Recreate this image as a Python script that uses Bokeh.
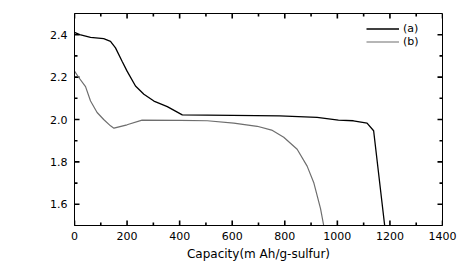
import math
from bokeh.plotting import figure
from bokeh.models import (Range1d, LinearAxis, FixedTicker, Legend, LegendItem, Label,
                          PrintfTickFormatter, ColumnDataSource)
from bokeh.embed import file_html
from bokeh.resources import INLINE

# Data
cap_a = [0, 20, 61, 111, 137, 156, 181, 200, 232, 264, 302, 353, 410, 600, 780, 923, 1004, 1061, 1113, 1138, 1180]
volt_a = [2.411, 2.40, 2.387, 2.381, 2.369, 2.338, 2.275, 2.228, 2.158, 2.119, 2.087, 2.061, 2.022, 2.019, 2.017, 2.01, 1.997, 1.994, 1.983, 1.947, 1.5]

cap_b = [0, 17, 42, 61, 86, 111, 137, 150, 200, 257, 400, 505, 606, 695, 750, 796, 847, 885, 910, 936, 948]
volt_b = [2.228, 2.197, 2.155, 2.087, 2.033, 2.0, 1.970, 1.959, 1.975, 1.997, 1.996, 1.994, 1.983, 1.968, 1.95, 1.916, 1.86, 1.78, 1.703, 1.58, 1.5]

x_major = [0, 200, 400, 600, 800, 1000, 1200, 1400]
x_minor = [100, 300, 500, 700, 900, 1100, 1300]
y_major = [1.6, 1.8, 2.0, 2.2, 2.4]
y_minor = [1.7, 1.9, 2.1, 2.3]

labels = ["(a)", "(b)"]
x_title = "Capacity(m Ah/g-sulfur)"
y_title = "Voltage(V)"

FONT = "DejaVu Sans"
X0, X1, Y0, Y1 = 0, 1400, 1.5, 2.5
FRAME_W, FRAME_H = 368, 214

p = figure(width=459, height=263, output_backend="svg", toolbar_location=None,
           x_range=Range1d(X0, X1), y_range=Range1d(Y0, Y1),
           x_axis_type=None, y_axis_type=None,
           min_border_left=74, min_border_right=17, min_border_top=13, min_border_bottom=36)
p.background_fill_color = "white"
p.border_fill_color = "white"
p.outline_line_color = "black"
p.outline_line_width = 1
p.xgrid.visible = False
p.ygrid.visible = False

xb = LinearAxis(ticker=FixedTicker(ticks=x_major))
xb.major_tick_in = 0
xb.major_tick_out = 0
xb.minor_tick_in = 0
xb.minor_tick_out = 0
xb.axis_line_color = "black"
xb.major_label_text_font = FONT
xb.major_label_text_font_size = "11px"
xb.major_label_text_color = "black"
xb.major_label_standoff = 6
xb.axis_label = x_title
xb.axis_label_text_font = FONT
xb.axis_label_text_font_size = "12px"
xb.axis_label_text_font_style = "normal"
xb.axis_label_text_color = "black"
xb.axis_label_standoff = 4
p.add_layout(xb, "below")

yl = LinearAxis(ticker=FixedTicker(ticks=y_major), formatter=PrintfTickFormatter(format="%.1f"))
yl.major_tick_in = 0
yl.major_tick_out = 0
yl.minor_tick_in = 0
yl.minor_tick_out = 0
yl.axis_line_color = "black"
yl.major_label_text_font = FONT
yl.major_label_text_font_size = "11px"
yl.major_label_text_color = "black"
yl.major_label_standoff = 7
p.add_layout(yl, "left")

# inward tick marks on all four sides (converted from pixels to data units)
dx_maj = 5 * (X1 - X0) / FRAME_W
dx_min = 3 * (X1 - X0) / FRAME_W
dy_maj = 5 * (Y1 - Y0) / FRAME_H
dy_min = 3 * (Y1 - Y0) / FRAME_H

tx0, ty0, tx1, ty1 = [], [], [], []
for ticks, ln in ((x_major, dy_maj), (x_minor, dy_min)):
    for t in ticks:
        tx0 += [t, t]; tx1 += [t, t]
        ty0 += [Y0, Y1]; ty1 += [Y0 + ln, Y1 - ln]
for ticks, ln in ((y_major, dx_maj), (y_minor, dx_min)):
    for t in ticks:
        ty0 += [t, t]; ty1 += [t, t]
        tx0 += [X0, X1]; tx1 += [X0 + ln, X1 - ln]
tick_src = ColumnDataSource(dict(x0=tx0, y0=ty0, x1=tx1, y1=ty1))
p.segment(x0="x0", y0="y0", x1="x1", y1="y1", source=tick_src,
          line_color="black", line_width=1.6)

ra = p.line(cap_a, volt_a, line_color="black", line_width=1.3)
rb = p.line(cap_b, volt_b, line_color="#6e6e6e", line_width=1.2)

legend = Legend(items=[LegendItem(label=labels[0], renderers=[ra]),
                       LegendItem(label=labels[1], renderers=[rb])],
                location=(292, 177), border_line_color=None,
                background_fill_alpha=0, glyph_width=33, glyph_height=13,
                label_height=13, label_standoff=4, spacing=0, padding=0, margin=0,
                label_text_font=FONT, label_text_font_size="11px", label_text_color="black")
p.add_layout(legend, "center")

ylab = Label(x=-54, y=121.5, x_units="screen", y_units="screen", text=y_title,
             angle=math.pi / 2, text_align="center", text_baseline="middle",
             text_font="Liberation Sans", text_font_size="10.5px", text_color="black")
p.add_layout(ylab)

open("out.html", "w").write(file_html(p, INLINE))
